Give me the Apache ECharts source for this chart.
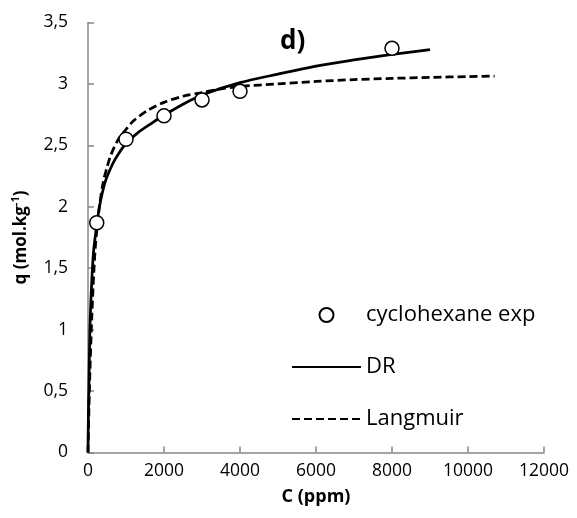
<!DOCTYPE html>
<html>
<head>
<meta charset="utf-8">
<script src="https://cdn.jsdelivr.net/npm/echarts@6/dist/echarts.min.js"></script>
<style>
html,body{margin:0;padding:0;background:#fff;}
#chart{width:577px;height:518px;}
</style>
</head>
<body>
<div id="chart"></div>
<script>
// Experimental points (cyclohexane)
const expC = [230, 1000, 2000, 3000, 4000, 8000];
const expQ = [1.87, 2.55, 2.74, 2.87, 2.94, 3.29];

// DR model curve
const drC = [0, 10, 25, 50, 100, 150, 200, 250, 300, 450, 650, 800, 1000, 1300, 1700, 2000, 2500, 3000, 4000, 5000, 6000, 7000, 8000, 9000];
const drQ = [0, 0.30, 0.55, 1.00, 1.40, 1.65, 1.78, 1.89, 2.00, 2.20, 2.35, 2.43, 2.515, 2.60, 2.685, 2.745, 2.835, 2.91, 3.01, 3.08, 3.145, 3.195, 3.24, 3.28];

// Langmuir model curve
const lgC = [0, 25, 50, 100, 150, 200, 300, 400, 500, 600, 800, 1000, 1200, 1600, 2000, 2500, 3000, 3500, 4000, 5000, 6000, 7000, 8000, 9000, 10000, 10700];
const lgQ = [0, 0.35, 0.65, 1.10, 1.45, 1.70, 2.00, 2.20, 2.32, 2.42, 2.55, 2.63, 2.70, 2.79, 2.85, 2.90, 2.93, 2.96, 2.98, 3.00, 3.02, 3.035, 3.045, 3.053, 3.06, 3.064];

// Tick labels
const xTickLabels = ['0', '2000', '4000', '6000', '8000', '10000', '12000'];
const yTickLabels = ['0', '0,5', '1', '1,5', '2', '2,5', '3', '3,5'];

const seriesNames = ['cyclohexane exp', 'DR', 'Langmuir'];

const zip = (a, b) => a.map((v, i) => [v, b[i]]);
const FONT = '"Open Sans", "Noto Sans", sans-serif';
const AXIS_COLOR = '#868686';

const chart = echarts.init(document.getElementById('chart'), null, {renderer: 'canvas'});
chart.setOption({
  animation: false,
  backgroundColor: '#ffffff',
  title: {
    text: 'd)',
    left: 275,
    top: 24,
    textStyle: {fontFamily: FONT, fontWeight: 'bold', fontSize: 26, color: '#000'}
  },
  grid: {left: 88, right: 33, top: 22.5, bottom: 65.5, containLabel: false},
  legend: {
    orient: 'vertical',
    left: 286,
    top: 299,
    itemWidth: 69,
    itemHeight: 14,
    itemGap: 30,
    data: [
      {name: seriesNames[0]},
      {name: seriesNames[1], itemStyle: {opacity: 0}},
      {name: seriesNames[2], itemStyle: {opacity: 0}}
    ],
    textStyle: {fontFamily: FONT, fontSize: 22, color: '#000', lineHeight: 22}
  },
  xAxis: {
    type: 'value',
    min: 0, max: 12000, interval: 2000,
    name: 'C (ppm)',
    nameLocation: 'middle',
    nameGap: 35,
    nameTextStyle: {fontFamily: FONT, fontWeight: 'bold', fontSize: 18, color: '#000'},
    axisLine: {show: true, lineStyle: {color: AXIS_COLOR, width: 1.5}},
    axisTick: {show: true, inside: true, length: 6, lineStyle: {color: AXIS_COLOR, width: 1.5}},
    splitLine: {show: false},
    axisLabel: {
      margin: 10,
      fontFamily: FONT, fontSize: 17.5, color: '#000',
      formatter: (v) => xTickLabels[Math.round(v / 2000)]
    }
  },
  yAxis: {
    type: 'value',
    min: 0, max: 3.5, interval: 0.5,
    name: '{a|q (mol.kg}{s|-1}{a|)}',
    nameLocation: 'middle',
    nameGap: 58,
    nameTextStyle: {
      fontFamily: FONT, fontWeight: 'bold', fontSize: 17, color: '#000',
      rich: {
        a: {fontFamily: FONT, fontWeight: 'bold', fontSize: 17, color: '#000', lineHeight: 20, verticalAlign: 'bottom'},
        s: {fontFamily: FONT, fontWeight: 'bold', fontSize: 11, color: '#000', lineHeight: 12, verticalAlign: 'top'}
      }
    },
    axisLine: {show: true, lineStyle: {color: AXIS_COLOR, width: 1.5}},
    axisTick: {show: true, inside: true, length: 6, lineStyle: {color: AXIS_COLOR, width: 1.5}},
    splitLine: {show: false},
    axisLabel: {
      margin: 20,
      fontFamily: FONT, fontSize: 17.5, color: '#000',
      formatter: (v) => yTickLabels[Math.round(v / 0.5)]
    }
  },
  series: [
    {
      name: seriesNames[1],
      type: 'line',
      data: zip(drC, drQ),
      smooth: 0.3,
      symbol: 'none',
      lineStyle: {color: '#000', width: 2.75, type: 'solid'},
      itemStyle: {color: '#000'},
      z: 2
    },
    {
      name: seriesNames[2],
      type: 'line',
      data: zip(lgC, lgQ),
      smooth: 0.3,
      symbol: 'none',
      lineStyle: {color: '#000', width: 2.75, type: [8, 4]},
      itemStyle: {color: '#000'},
      z: 2
    },
    {
      name: seriesNames[0],
      type: 'scatter',
      data: zip(expC, expQ),
      symbol: 'circle',
      symbolSize: 14,
      itemStyle: {color: '#ffffff', borderColor: '#000', borderWidth: 1.5, opacity: 1},
      z: 5
    }
  ]
});
</script>
</body>
</html>
